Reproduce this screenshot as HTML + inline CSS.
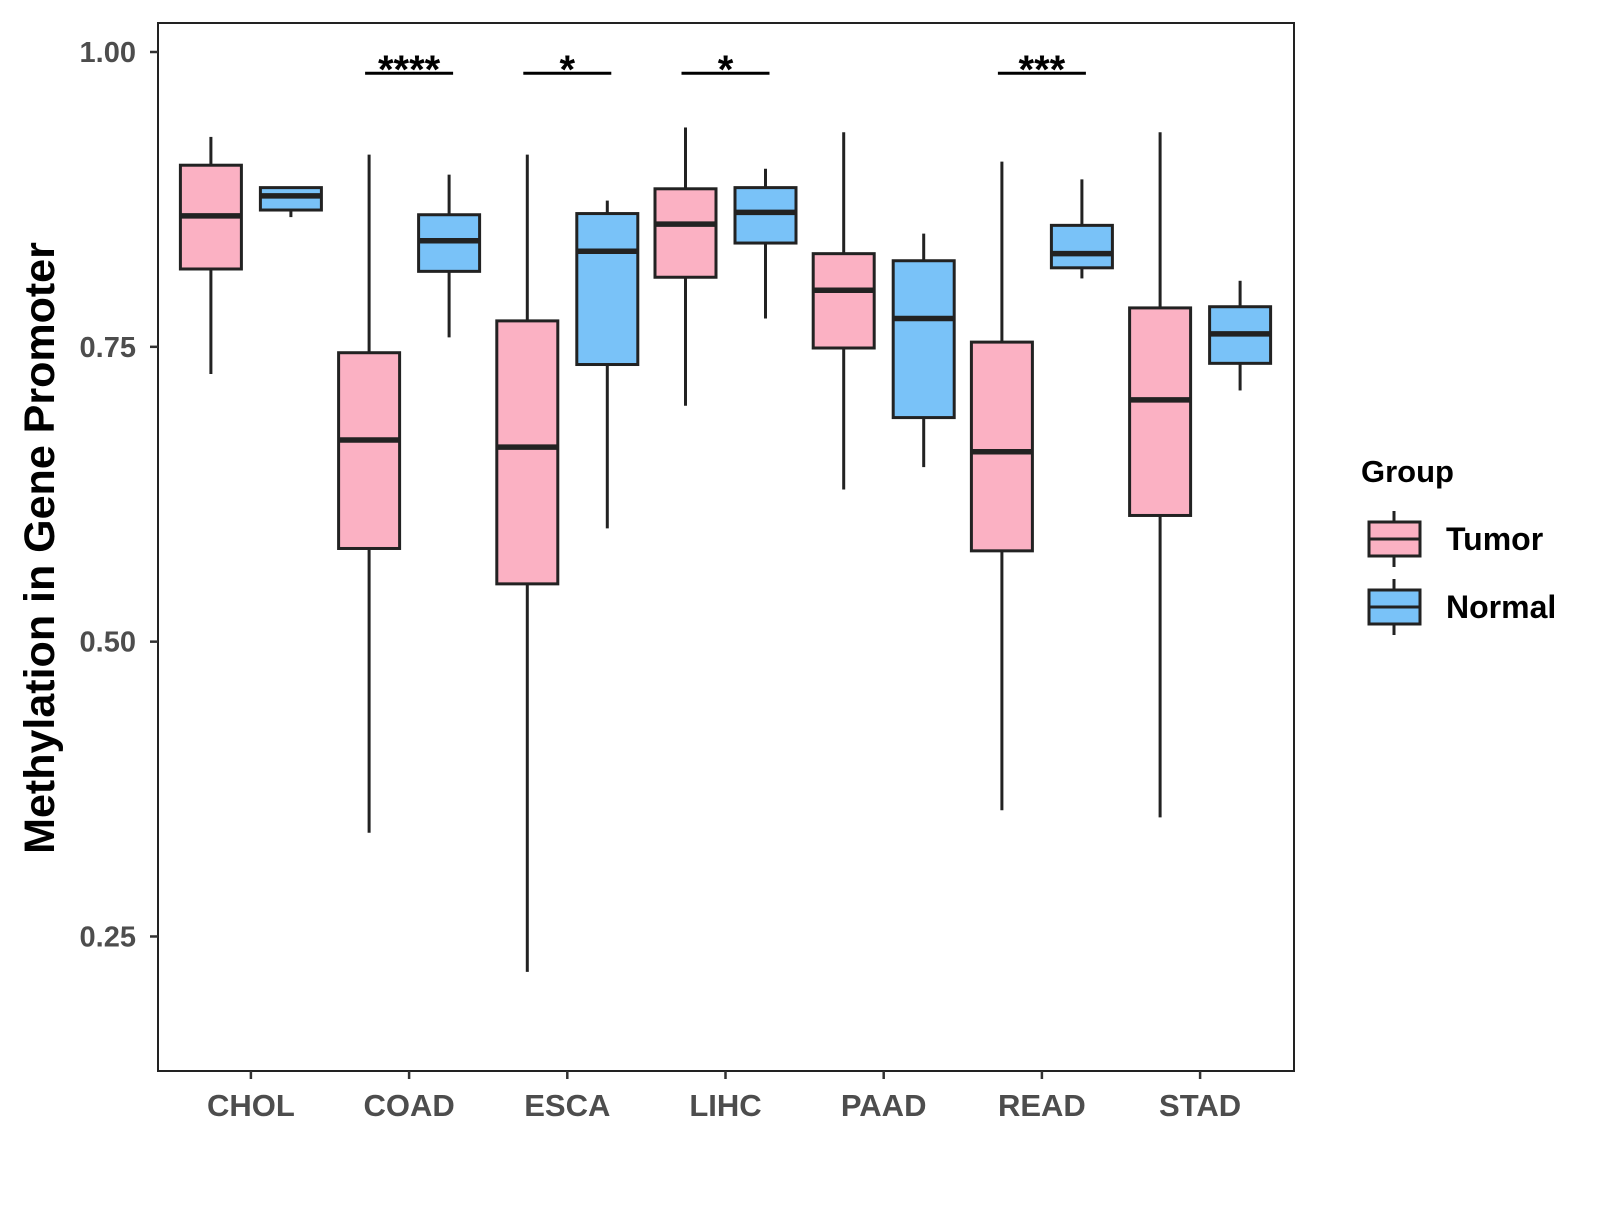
<!DOCTYPE html>
<html><head><meta charset="utf-8"><style>
body{margin:0;background:#fff}
svg text{font-family:"Liberation Sans",Arial,sans-serif;font-weight:bold}
</style></head><body>
<svg id="chart" width="1600" height="1200" xmlns="http://www.w3.org/2000/svg">
<rect x="0" y="0" width="1600" height="1200" fill="#fff"/>
<g id="plot"></g>
</svg>
<script>
const categories=["CHOL","COAD","ESCA","LIHC","PAAD","READ","STAD"];
const tumorLow=[0.727,0.338,0.220,0.700,0.629,0.357,0.351];
const tumorQ1=[0.816,0.579,0.549,0.809,0.749,0.577,0.607];
const tumorMed=[0.861,0.671,0.665,0.854,0.798,0.661,0.705];
const tumorQ3=[0.904,0.745,0.772,0.884,0.829,0.754,0.783];
const tumorHigh=[0.928,0.913,0.913,0.936,0.932,0.907,0.932];
const normalLow=[0.860,0.758,0.596,0.774,0.648,0.808,0.713];
const normalQ1=[0.866,0.814,0.735,0.838,0.690,0.817,0.736];
const normalMed=[0.878,0.840,0.831,0.864,0.774,0.829,0.761];
const normalQ3=[0.885,0.862,0.863,0.885,0.823,0.853,0.784];
const normalHigh=[0.885,0.896,0.874,0.901,0.846,0.892,0.806];
const sigCats=["COAD","ESCA","LIHC","READ"];
const sigLabels=["****","*","*","***"];
const sigLevel=0.982;
const yTicks=[0.25,0.50,0.75,1.00];

const NS="http://www.w3.org/2000/svg";
const g=document.getElementById('plot');
const L=158,R=1294,T=23,B=1071;
const Y0=1.0,Ypx=1179.3,Y0px=52;
function y(v){return Y0px+(Y0-v)*Ypx;}
function x(i){return 250.9+i*158.2;}
function el(t,a,p){const e=document.createElementNS(NS,t);for(const k in a)e.setAttribute(k,a[k]);(p||g).appendChild(e);return e;}

const panel=el('rect',{x:L,y:T,width:R-L,height:B-T,fill:'none',stroke:'#222','stroke-width':2});



yTicks.forEach(v=>{
  const t=el('line',{x1:L-8,x2:L,y1:y(v),y2:y(v),stroke:'#333','stroke-width':2.5});
  
  
  const tx=el('text',{x:L-22,y:y(v)+10,'text-anchor':'end','font-size':29,fill:'#4d4d4d'});
  tx.textContent=v.toFixed(2);
  
  
});
categories.forEach((c,i)=>{
  const t=el('line',{x1:x(i),x2:x(i),y1:B,y2:B+8,stroke:'#333','stroke-width':2.5});
  
  
  const tx=el('text',{x:x(i),y:1116,'text-anchor':'middle','font-size':31,fill:'#4d4d4d'});
  tx.textContent=c;
  
  
});
const yt=el('text',{x:0,y:0,'text-anchor':'middle','font-size':43,fill:'#000',transform:'translate(54,548) rotate(-90)'});
yt.textContent='Methylation in Gene Promoter';



function box(cx,lo,q1,md,q3,hi,fill,name){
  const grp=el('g',{});
  
  
  el('line',{x1:cx,x2:cx,y1:y(hi),y2:y(q3),stroke:'#222','stroke-width':3},grp);
  el('line',{x1:cx,x2:cx,y1:y(q1),y2:y(lo),stroke:'#222','stroke-width':3},grp);
  el('rect',{x:cx-30.5,y:y(q3),width:61,height:y(q1)-y(q3),fill:fill,stroke:'#222','stroke-width':3},grp);
  el('line',{x1:cx-30.5,x2:cx+30.5,y1:y(md),y2:y(md),stroke:'#222','stroke-width':5.5},grp);
}
categories.forEach((c,i)=>{
  box(x(i)-40,tumorLow[i],tumorQ1[i],tumorMed[i],tumorQ3[i],tumorHigh[i],'#FBB1C3','box-tumor-'+c.toLowerCase());
  box(x(i)+40,normalLow[i],normalQ1[i],normalMed[i],normalQ3[i],normalHigh[i],'#79C2F8','box-normal-'+c.toLowerCase());
});
sigCats.forEach((c,j)=>{
  const i=categories.indexOf(c);
  const l=el('line',{x1:x(i)-44,x2:x(i)+44,y1:y(sigLevel),y2:y(sigLevel),stroke:'#000','stroke-width':3});
  
  
  const t=el('text',{x:x(i),y:y(sigLevel)+10,'text-anchor':'middle','font-size':40,fill:'#000'});
  t.textContent=sigLabels[j];
  
  
});

const lg=el('g',{});


const lt=el('text',{x:1361,y:482,'font-size':31,fill:'#000'},lg);
lt.textContent='Group';


[['Tumor','#FBB1C3',539],['Normal','#79C2F8',607]].forEach(([n,f,cy])=>{
  const e=el('g',{},lg);
  
  
  el('line',{x1:1394,x2:1394,y1:cy-28,y2:cy+28,stroke:'#222','stroke-width':3},e);
  el('rect',{x:1369,y:cy-17,width:51,height:34,fill:f,stroke:'#222','stroke-width':3},e);
  el('line',{x1:1369,x2:1420,y1:cy,y2:cy,stroke:'#222','stroke-width':3},e);
  const t=el('text',{x:1446,y:cy+11,'font-size':32,fill:'#000'},e);
  t.textContent=n;
});
</script>
</body></html>
